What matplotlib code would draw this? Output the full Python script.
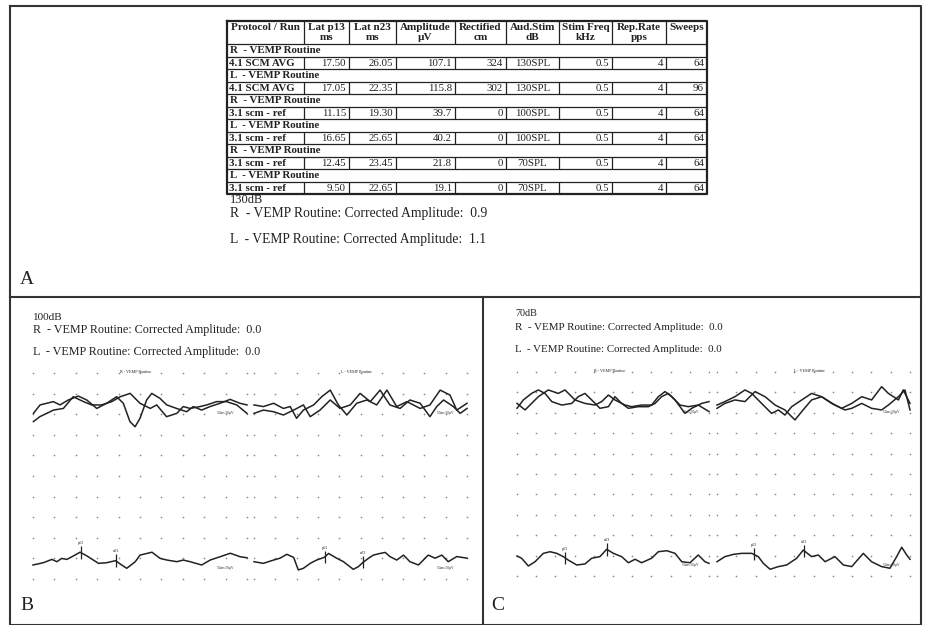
import numpy as np
import matplotlib
matplotlib.use("Agg")
import matplotlib.pyplot as plt

W, H = 925, 625
SERIF = ["Liberation Serif", "DejaVu Serif"]
INK = "#222222"
DOT = "#8a8a8a"

# ---- panel A: results table ----
col_headers = ["Protocol / Run", "Lat p13\nms", "Lat n23\nms", "Amplitude\nµV", "Rectified\ncm",
               "Aud.Stim\ndB", "Stim Freq\nkHz", "Rep.Rate\npps", "Sweeps"]
run_sides = ["R", "L", "R", "L", "R", "L"]
run_names = ["4.1 SCM AVG", "4.1 SCM AVG", "3.1 scm - ref", "3.1 scm - ref", "3.1 scm - ref", "3.1 scm - ref"]
lat_p13 = [17.50, 17.05, 11.15, 16.65, 12.45, 9.50]
lat_n23 = [26.05, 22.35, 19.30, 25.65, 23.45, 22.65]
amplitude = [107.1, 115.8, 39.7, 40.2, 21.8, 19.1]
rectified = [324, 302, 0, 0, 0, 0]
aud_stim = ["130SPL", "130SPL", "100SPL", "100SPL", "70SPL", "70SPL"]
stim_freq = [0.5, 0.5, 0.5, 0.5, 0.5, 0.5]
rep_rate = [4, 4, 4, 4, 4, 4]
sweeps = [64, 96, 64, 64, 64, 64]

levels = ["130dB", "100dB", "70dB"]
corrected_r = [0.9, 0.0, 0.0]
corrected_l = [1.1, 0.0, 0.0]

# ---- waveforms: time in ms (0-50 per block), amplitude in grid rows (0 = top) ----
b_r_top1_t = [0.1, 1.65, 3.2, 4.75, 6.3, 8.25, 10.6, 12.55, 14.9, 17.2, 19.55, 21.1, 22.65, 23.85,
              25.0, 26.55, 27.75, 29.65, 31.25, 33.55, 35.9, 37.45, 39.4, 41.35, 43.7, 46.05, 48.35, 50.0]
b_r_top1_v = [1.96, 1.55, 1.47, 1.39, 1.55, 1.31, 1.12, 1.31, 1.72, 1.47, 1.15, 1.47, 2.36, 2.61,
              2.2, 1.31, 0.99, 1.23, 1.55, 1.72, 1.88, 1.63, 1.8, 1.63, 1.47, 1.28, 1.47, 1.55]
b_r_top2_t = [0.1, 1.6, 3.2, 4.8, 7.1, 9.4, 11.8, 13.7, 16.0, 18.4, 20.4, 22.7, 25.0, 27.4, 28.9,
              31.2, 33.6, 35.1, 36.7, 39.0, 40.6, 42.9, 45.2, 47.6, 50.0]
b_r_top2_v = [2.36, 2.12, 1.96, 1.8, 1.72, 1.15, 1.39, 1.55, 1.55, 1.39, 1.15, 0.99, 1.47, 1.72, 1.55,
              2.12, 1.96, 1.63, 1.72, 1.63, 1.55, 1.39, 1.39, 1.55, 1.96]
b_r_bot_t = [0, 2.4, 4.4, 5.6, 6.7, 7.9, 9.8, 11.0, 12.6, 15.3, 17.2, 19.3, 20.7, 21.9, 23.9, 25.0,
             27.8, 29.7, 31.3, 33.6, 35.1, 36.7, 39.4, 41.4, 43.7, 46.1, 48.4, 50.0]
b_r_bot_v = [9.32, 9.21, 9.05, 9.16, 9.0, 9.05, 8.84, 8.7, 8.88, 9.24, 9.21, 9.11, 9.32, 9.48, 9.16, 8.84,
             8.7, 9.0, 9.08, 9.16, 9.08, 9.16, 9.32, 9.08, 8.92, 8.75, 8.92, 8.97]

b_l_top1_t = [0, 2.2, 4.6, 6.9, 8.5, 10.0, 11.6, 14.0, 15.9, 17.9, 19.8, 21.8, 24.1, 26.5, 28.8, 31.2,
              33.5, 35.9, 39.0, 41.3, 43.7, 46.0, 47.6, 50.0]
b_l_top1_v = [1.55, 1.63, 1.47, 1.72, 1.63, 2.2, 1.8, 1.55, 1.15, 0.83, 1.55, 2.04, 1.47, 1.31, 1.55, 0.83,
              1.63, 1.39, 1.72, 1.55, 0.83, 1.07, 1.8, 1.47]
b_l_top2_t = [0, 2.2, 4.6, 6.9, 9.3, 11.6, 13.2, 15.5, 17.9, 20.2, 22.6, 24.9, 27.3, 29.6, 31.9, 34.3,
              36.6, 39.0, 41.3, 42.9, 44.5, 46.8, 48.4, 50.0]
b_l_top2_v = [1.96, 1.8, 1.88, 2.04, 1.8, 1.55, 2.12, 1.8, 1.31, 1.72, 1.55, 0.99, 1.39, 0.83, 1.55, 1.72,
              1.31, 1.47, 2.12, 1.63, 1.31, 1.63, 1.96, 1.72]
b_l_bot_t = [0, 2.2, 4.6, 6.1, 7.7, 9.3, 10.4, 11.6, 13.2, 14.7, 16.5, 17.5, 19.4, 21.0, 23.3, 24.5,
             25.5, 26.9, 28.0, 29.6, 30.8, 31.9, 33.5, 35.1, 36.6, 38.6, 40.9, 42.5, 44.1, 45.6, 47.6, 50.0]
b_l_bot_v = [9.16, 9.24, 9.08, 8.99, 8.8, 8.95, 9.56, 9.48, 9.24, 9.08, 8.95, 8.76, 8.99, 9.16, 9.53, 9.4,
             9.21, 8.99, 8.84, 8.76, 8.71, 8.91, 9.08, 8.84, 9.16, 9.32, 8.84, 8.99, 8.84, 9.16, 8.91, 8.99]

c_r_top1_t = [0, 1.65, 3.8, 5.55, 7.3, 9.05, 11.65, 14.25, 15.95, 17.7, 19.45, 21.6, 23.8, 25.5, 27.25,
              29.0, 31.6, 34.2, 35.95, 37.65, 39.4, 41.15, 43.75, 45.5, 48.1, 50]
c_r_top1_v = [1.78, 1.37, 1.05, 0.88, 1.05, 1.45, 1.62, 1.54, 1.21, 1.05, 1.37, 1.78, 1.7, 1.21, 1.54,
              1.78, 1.7, 1.7, 1.54, 1.21, 1.05, 1.37, 2.03, 1.78, 1.54, 1.45]
c_r_top2_t = [0, 2.1, 3.8, 5.55, 8.15, 10.75, 12.5, 15.1, 17.7, 20.3, 22.05, 23.8, 25.5, 28.15, 29.85,
              32.45, 35.05, 36.8, 38.55, 40.3, 42.45, 44.6, 47.2, 50]
c_r_top2_v = [1.54, 1.86, 1.54, 1.21, 0.88, 1.05, 0.88, 1.37, 1.54, 1.62, 1.45, 1.13, 1.37, 1.62, 1.7,
              1.62, 1.62, 1.21, 0.96, 1.21, 1.62, 1.7, 1.62, 1.94]
c_r_bot_t = [0, 1.2, 2.95, 4.7, 6.85, 8.6, 10.35, 12.05, 13.35, 15.55, 17.7, 19.45, 21.6, 23.35, 25.1,
             27.25, 29.0, 30.75, 32.45, 35.05, 36.8, 39.0, 41.15, 42.9, 45.05, 47.2, 48.95, 50]
c_r_bot_v = [9.02, 9.13, 9.51, 9.3, 8.89, 8.81, 8.89, 9.05, 9.22, 9.46, 9.41, 9.13, 9.05, 8.69, 8.89,
             9.05, 9.35, 9.18, 9.35, 9.13, 8.81, 8.76, 8.89, 9.3, 9.35, 8.97, 9.3, 9.38]

c_l_top1_t = [0, 2.05, 4.65, 7.25, 9.0, 11.55, 14.15, 15.9, 17.6, 19.35, 21.95, 24.5, 27.1, 29.7, 32.3,
              34.9, 37.5, 40.05, 42.65, 44.4, 47.0, 48.25, 50]
c_l_top1_v = [1.62, 1.45, 1.21, 0.88, 1.05, 1.54, 2.03, 1.86, 2.11, 1.7, 1.37, 1.05, 1.21, 1.54, 1.78,
              1.54, 1.21, 1.37, 0.72, 1.05, 1.37, 0.88, 1.54]
c_l_top2_t = [0, 2.05, 4.65, 7.25, 9.85, 12.45, 15.05, 17.6, 20.2, 21.95, 24.5, 27.1, 30.55, 33.15, 34.9,
              37.5, 40.05, 42.65, 44.4, 47.0, 48.7, 50]
c_l_top2_v = [1.78, 1.54, 1.37, 1.45, 0.96, 1.21, 1.62, 1.86, 2.35, 1.94, 1.37, 1.21, 1.62, 1.86, 1.78,
              1.54, 1.78, 1.86, 1.62, 1.21, 0.88, 1.86]
c_l_bot_t = [0, 2.05, 4.25, 6.4, 9.0, 10.7, 12.0, 13.75, 15.9, 18.05, 20.65, 22.35, 24.5, 26.25, 28.0,
             30.55, 32.75, 34.9, 37.9, 40.05, 42.65, 44.8, 46.55, 47.85, 49.15, 50]
c_l_bot_v = [9.3, 9.05, 8.94, 8.89, 8.89, 9.05, 9.38, 9.67, 9.54, 9.46, 9.13, 8.73, 9.05, 8.97, 9.3,
             9.05, 9.46, 9.54, 8.89, 9.3, 9.54, 9.62, 9.05, 8.59, 8.97, 9.18]

grid_ms = np.arange(0, 51, 5)
grid_rows = np.arange(0, 11)


def px_axes(fig, x0, y0, x1, y1):
    # axes placed by pixel box (top-left origin)
    return fig.add_axes([x0 / W, 1 - y1 / H, (x1 - x0) / W, (y1 - y0) / H])


def draw_block(ax, title, tops, bottom, p13, n23):
    ax.set_xlim(0, 50)
    ax.set_ylim(10, 0)
    ax.axis("off")
    gx, gy = np.meshgrid(grid_ms, grid_rows)
    ax.scatter(gx.ravel(), gy.ravel(), s=1.5, color=DOT, lw=0, clip_on=False)
    for t, v in tops:
        ax.plot(t, v, color=INK, lw=1.1, clip_on=False)
    bt, bv = bottom
    ax.plot(bt, bv, color=INK, lw=1.1, clip_on=False)
    for name, lat in (("p13", p13), ("n23", n23)):
        y = np.interp(lat, bt, bv)
        ax.vlines(lat, y - 0.3, y + 0.3, color=INK, lw=0.9)
        ax.text(lat, y - 0.35, name, fontsize=3, ha="center", va="bottom", family=SERIF, color=INK)
    ax.text(24, 0.05, title, fontsize=3, ha="center", va="bottom", family=SERIF, color=INK)
    ax.text(43, 2.0, "50ms 50µV", fontsize=2.5, family=SERIF, color=INK)
    ax.text(43, 9.5, "50ms 50µV", fontsize=2.5, family=SERIF, color=INK)


fig = plt.figure(figsize=(W / 100, H / 100), dpi=100)
bg = fig.add_axes([0, 0, 1, 1])
bg.set_xlim(0, W)
bg.set_ylim(H, 0)
bg.axis("off")

# panel frames
frame = dict(color="#333333", lw=1.5)
bg.plot([10, 921, 921, 10, 10], [6, 6, 625, 625, 6], **frame)
bg.plot([10, 921], [297, 297], **frame)
bg.plot([483, 483], [297, 625], **frame)

# table geometry
col_edges = [227, 304, 349, 396, 455, 506, 559, 612, 666, 707]
tab_top, head_bot, row_h = 21, 44, 12.5
n_rows = 2 * len(run_names)
tab_bot = head_bot + n_rows * row_h
fs_tab = 7.8
fs_head = 8.0

bg.plot([col_edges[0], col_edges[-1], col_edges[-1], col_edges[0], col_edges[0]],
        [tab_top, tab_top, tab_bot, tab_bot, tab_top], color=INK, lw=1.6)
bg.hlines([head_bot + k * row_h for k in range(n_rows)], col_edges[0], col_edges[-1], color=INK, lw=0.9)
bg.vlines(col_edges[1:-1], tab_top, head_bot, color=INK, lw=0.9)
for j, hdr in enumerate(col_headers):
    cx = (col_edges[j] + col_edges[j + 1]) / 2
    for k, line in enumerate(hdr.split("\n")):
        bg.text(cx, 27.5 + 10.5 * k, line, ha="center", va="center", fontsize=fs_head,
                fontweight="bold", family=SERIF, color=INK)

for i in range(len(run_names)):
    y_sec = head_bot + 2 * i * row_h
    y_dat = y_sec + row_h
    bg.text(col_edges[0] + 3, y_sec + row_h / 2 + 0.5, f"{run_sides[i]}  - VEMP Routine", ha="left",
            va="center", fontsize=fs_tab, fontweight="bold", family=SERIF, color=INK)
    bg.vlines(col_edges[1:-1], y_dat, y_dat + row_h, color=INK, lw=0.9)
    cells = [f"{lat_p13[i]:.2f}", f"{lat_n23[i]:.2f}", f"{amplitude[i]:.1f}", f"{rectified[i]}",
             aud_stim[i], f"{stim_freq[i]}", f"{rep_rate[i]}", f"{sweeps[i]}"]
    yc = y_dat + row_h / 2 + 0.5
    bg.text(col_edges[0] + 2, yc, run_names[i], ha="left", va="center", fontsize=fs_tab,
            fontweight="bold", family=SERIF, color=INK)
    for j, val in enumerate(cells, start=1):
        if j == 5:
            bg.text((col_edges[j] + col_edges[j + 1]) / 2, yc, val, ha="center", va="center",
                    fontsize=fs_tab, family=SERIF, color=INK)
        else:
            bg.text(col_edges[j + 1] - 3, yc, val, ha="right", va="center", fontsize=fs_tab,
                    family=SERIF, color=INK)

# corrected amplitude captions
captions = [(230, 200, 213, 240, 9.8), (33, 317, 330, 352, 8.7), (515, 314, 327, 350, 7.9)]
for k, (x, y_lvl, y_r, y_l, fs) in enumerate(captions):
    bg.text(x, y_lvl, levels[k], ha="left", va="center", fontsize=fs * 0.92, family=SERIF, color=INK)
    bg.text(x, y_r, f"R  - VEMP Routine: Corrected Amplitude:  {corrected_r[k]:.1f}", ha="left",
            va="center", fontsize=fs, family=SERIF, color=INK)
    bg.text(x, y_l, f"L  - VEMP Routine: Corrected Amplitude:  {corrected_l[k]:.1f}", ha="left",
            va="center", fontsize=fs, family=SERIF, color=INK)

# panel letters
for letter, x, y in (("A", 20, 280), ("B", 20, 606), ("C", 491, 606)):
    bg.text(x, y, letter, ha="left", va="center", fontsize=14, family=SERIF, color=INK)

# waveform blocks
blocks = [
    ((33, 373, 247, 579), "R - VEMP Routine", [(b_r_top1_t, b_r_top1_v), (b_r_top2_t, b_r_top2_v)],
     (b_r_bot_t, b_r_bot_v), lat_p13[2], lat_n23[2]),
    ((254, 373, 467, 579), "L - VEMP Routine", [(b_l_top1_t, b_l_top1_v), (b_l_top2_t, b_l_top2_v)],
     (b_l_bot_t, b_l_bot_v), lat_p13[3], lat_n23[3]),
    ((517, 372, 709, 576), "R - VEMP Routine", [(c_r_top1_t, c_r_top1_v), (c_r_top2_t, c_r_top2_v)],
     (c_r_bot_t, c_r_bot_v), lat_p13[4], lat_n23[4]),
    ((717, 372, 910, 576), "L - VEMP Routine", [(c_l_top1_t, c_l_top1_v), (c_l_top2_t, c_l_top2_v)],
     (c_l_bot_t, c_l_bot_v), lat_p13[5], lat_n23[5]),
]
for box, title, tops, bottom, p13, n23 in blocks:
    ax = px_axes(fig, *box)
    draw_block(ax, title, tops, bottom, p13, n23)

fig.savefig("out.png", dpi=100)
